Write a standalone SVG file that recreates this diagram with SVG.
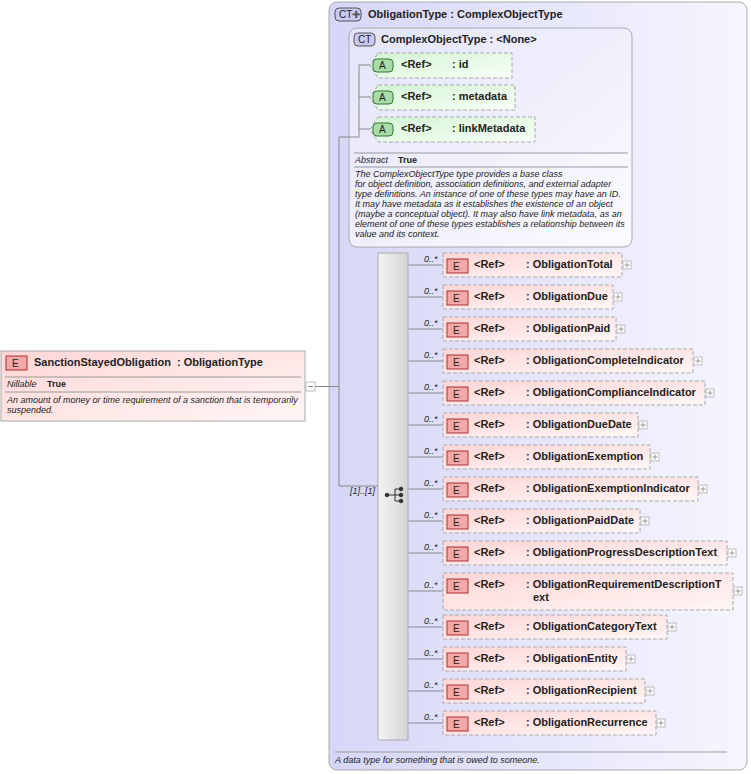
<svg xmlns="http://www.w3.org/2000/svg" width="751" height="774" viewBox="0 0 751 774">
<defs>
<linearGradient id="gOuter" x1="0" y1="0" x2="1" y2="0"><stop offset="0" stop-color="#d6d6f8"/><stop offset="1" stop-color="#f6f6ff"/></linearGradient>
<linearGradient id="gInner" x1="0" y1="0" x2="1" y2="1"><stop offset="0" stop-color="#e4e4fa"/><stop offset="1" stop-color="#fbfbff"/></linearGradient>
<linearGradient id="gE" x1="0" y1="0" x2="1" y2="1"><stop offset="0" stop-color="#ffd6d6"/><stop offset="1" stop-color="#fff6f6"/></linearGradient>
<linearGradient id="gA" x1="0" y1="0" x2="1" y2="1"><stop offset="0" stop-color="#d4f4d4"/><stop offset="1" stop-color="#f8fff8"/></linearGradient>
<linearGradient id="gSeq" x1="0" y1="0" x2="1" y2="0"><stop offset="0" stop-color="#f4f4f4"/><stop offset="1" stop-color="#d4d4d4"/></linearGradient>
</defs>
<style>
text{font-family:"Liberation Sans",Arial,sans-serif;fill:#222}
.t{font-size:11px;font-weight:bold}
.s{font-size:9px;font-style:italic}
.b{font-size:9px;font-weight:bold}
.ebox{fill:url(#gE);stroke:#aaa;stroke-dasharray:4,2}
.abox{fill:url(#gA);stroke:#aaa;stroke-dasharray:4,2}
.ei{fill:#f4a8a8;stroke:#a33}
.ln{stroke:#888;fill:none}
.pl{fill:#fff;stroke:#bbb}
.sep{stroke:#999}
</style>
<g id="ObligationType">
<rect x="329" y="2" width="418" height="768" rx="8" fill="url(#gOuter)" stroke="#aaa"/>
<rect x="335" y="8" width="26" height="13" rx="4" fill="#c8c8f0" stroke="#555"/>
<text x="339" y="18" style="font-size:10px">CT</text><text x="352" y="18" style="font-size:10px;fill:#555">✚</text>
<text x="368" y="18" class="t">ObligationType : ComplexObjectType</text>
<line x1="335" y1="752" x2="727" y2="752" class="sep"/>
<text x="335" y="763" class="s">A data type for something that is owed to someone.</text>
</g>
<g id="ComplexObjectType">
<rect x="349" y="28" width="283" height="219" rx="8" fill="url(#gInner)" stroke="#aaa"/>
<rect x="354" y="33" width="21" height="13" rx="4" fill="#c8c8f0" stroke="#555"/>
<text x="358" y="43" style="font-size:10px">CT</text>
<text x="381" y="43" class="t">ComplexObjectType : &lt;None&gt;</text>
<line x1="354" y1="153" x2="628" y2="153" class="sep"/>
<text x="355" y="163" class="s">Abstract</text><text x="398" y="163" class="b">True</text>
<line x1="354" y1="167" x2="628" y2="167" class="sep"/>
<text class="s" style="font-size:9px"><tspan x="355" y="177">The ComplexObjectType type provides a base class</tspan><tspan x="355" y="187">for object definition, association definitions, and external adapter</tspan><tspan x="355" y="197">type definitions. An instance of one of these types may have an ID.</tspan><tspan x="355" y="207">It may have metadata as it establishes the existence of an object</tspan><tspan x="355" y="217">(maybe a conceptual object). It may also have link metadata, as an</tspan><tspan x="355" y="227">element of one of these types establishes a relationship between its</tspan><tspan x="355" y="237">value and its context.</tspan></text>
</g>
<g id="attr-id"><path d="M378,53 H512 V78 H378 L370,65.5 Z" class="abox"/><rect x="373" y="59" width="20" height="13" rx="4" fill="#a8dca8" stroke="#373"/><text x="379" y="69" style="font-size:10px">A</text><text x="401" y="68" class="t">&lt;Ref&gt;</text><text x="452" y="68" class="t">: id</text></g>
<g id="attr-metadata"><path d="M378,85 H515 V110 H378 L370,97.5 Z" class="abox"/><rect x="373" y="91" width="20" height="13" rx="4" fill="#a8dca8" stroke="#373"/><text x="379" y="101" style="font-size:10px">A</text><text x="401" y="100" class="t">&lt;Ref&gt;</text><text x="452" y="100" class="t">: metadata</text></g>
<g id="attr-linkMetadata"><path d="M378,117 H535 V142 H378 L370,129.5 Z" class="abox"/><rect x="373" y="123" width="20" height="13" rx="4" fill="#a8dca8" stroke="#373"/><text x="379" y="133" style="font-size:10px">A</text><text x="401" y="132" class="t">&lt;Ref&gt;</text><text x="452" y="132" class="t">: linkMetadata</text></g>
<g id="SanctionStayedObligation">
<rect x="1" y="351" width="304" height="70" fill="url(#gE)" stroke="#aaa"/>
<rect x="6" y="356" width="21" height="14" class="ei"/><text x="12" y="367" style="font-size:10px">E</text>
<text x="34" y="366" class="t">SanctionStayedObligation<tspan x="177">: ObligationType</tspan></text>
<line x1="5" y1="377" x2="301" y2="377" class="sep"/>
<text x="7" y="387" class="s">Nillable</text><text x="47" y="387" class="b">True</text>
<line x1="5" y1="392" x2="301" y2="392" class="sep"/>
<text class="s"><tspan x="7" y="403">An amount of money or time requirement of a sanction that is temporarily</tspan><tspan x="7" y="413">suspended.</tspan></text>
<rect x="306" y="382" width="9" height="9" class="pl"/><line x1="308" y1="386.5" x2="313" y2="386.5" stroke="#888"/>
</g>
<g id="connectors">
<path class="ln" d="M315,386.5 H339 M339,137 V486 M339,137 H359 M359,65 V137 M359,65 H370 M359,97 H370 M359,129 H370 M339,486 H378"/>
<path class="ln" d="M408,265 H443 M408,297 H443 M408,329 H443 M408,361 H443 M408,393 H443 M408,425 H443 M408,457 H443 M408,489 H443 M408,521 H443 M408,553 H443 M408,591 H443 M408,627 H443 M408,659 H443 M408,691 H443 M408,723 H443"/>
</g>
<g id="sequence">
<rect x="378" y="253" width="30" height="487" fill="url(#gSeq)" stroke="#aaa"/>
<text x="350" y="494" class="s">[1]..[1]</text>
<g stroke="#333" fill="#333"><line x1="387" y1="495" x2="395" y2="495"/><path d="M395,489 V501 M395,489 H400 M395,495 H400 M395,501 H400" fill="none"/><circle cx="387" cy="495" r="1.8"/><circle cx="401" cy="489" r="1.8"/><circle cx="401" cy="495" r="1.8"/><circle cx="401" cy="501" r="1.8"/></g>
</g>
<g id="elements">
<g id="e1"><text x="424" y="262" class="s">0..*</text><rect x="443" y="253" width="179" height="24" class="ebox"/><rect x="447" y="259" width="21" height="14" class="ei"/><text x="453" y="270" style="font-size:10px">E</text><text x="474" y="268" class="t">&lt;Ref&gt;</text><text x="526" y="268" class="t">: ObligationTotal</text><rect x="623" y="261" width="8" height="8" class="pl"/><path d="M624.5,265 H629.5 M627,262.5 V267.5" stroke="#999"/></g>
<g id="e2"><text x="424" y="294" class="s">0..*</text><rect x="443" y="285" width="170" height="24" class="ebox"/><rect x="447" y="291" width="21" height="14" class="ei"/><text x="453" y="302" style="font-size:10px">E</text><text x="474" y="300" class="t">&lt;Ref&gt;</text><text x="526" y="300" class="t">: ObligationDue</text><rect x="614" y="293" width="8" height="8" class="pl"/><path d="M615.5,297 H620.5 M618,294.5 V299.5" stroke="#999"/></g>
<g id="e3"><text x="424" y="326" class="s">0..*</text><rect x="443" y="317" width="173" height="24" class="ebox"/><rect x="447" y="323" width="21" height="14" class="ei"/><text x="453" y="334" style="font-size:10px">E</text><text x="474" y="332" class="t">&lt;Ref&gt;</text><text x="526" y="332" class="t">: ObligationPaid</text><rect x="617" y="325" width="8" height="8" class="pl"/><path d="M618.5,329 H623.5 M621,326.5 V331.5" stroke="#999"/></g>
<g id="e4"><text x="424" y="358" class="s">0..*</text><rect x="443" y="349" width="250" height="24" class="ebox"/><rect x="447" y="355" width="21" height="14" class="ei"/><text x="453" y="366" style="font-size:10px">E</text><text x="474" y="364" class="t">&lt;Ref&gt;</text><text x="526" y="364" class="t">: ObligationCompleteIndicator</text><rect x="694" y="357" width="8" height="8" class="pl"/><path d="M695.5,361 H700.5 M698,358.5 V363.5" stroke="#999"/></g>
<g id="e5"><text x="424" y="390" class="s">0..*</text><rect x="443" y="381" width="262" height="24" class="ebox"/><rect x="447" y="387" width="21" height="14" class="ei"/><text x="453" y="398" style="font-size:10px">E</text><text x="474" y="396" class="t">&lt;Ref&gt;</text><text x="526" y="396" class="t">: ObligationComplianceIndicator</text><rect x="706" y="389" width="8" height="8" class="pl"/><path d="M707.5,393 H712.5 M710,390.5 V395.5" stroke="#999"/></g>
<g id="e6"><text x="424" y="422" class="s">0..*</text><rect x="443" y="413" width="195" height="24" class="ebox"/><rect x="447" y="419" width="21" height="14" class="ei"/><text x="453" y="430" style="font-size:10px">E</text><text x="474" y="428" class="t">&lt;Ref&gt;</text><text x="526" y="428" class="t">: ObligationDueDate</text><rect x="639" y="421" width="8" height="8" class="pl"/><path d="M640.5,425 H645.5 M643,422.5 V427.5" stroke="#999"/></g>
<g id="e7"><text x="424" y="454" class="s">0..*</text><rect x="443" y="445" width="207" height="24" class="ebox"/><rect x="447" y="451" width="21" height="14" class="ei"/><text x="453" y="462" style="font-size:10px">E</text><text x="474" y="460" class="t">&lt;Ref&gt;</text><text x="526" y="460" class="t">: ObligationExemption</text><rect x="651" y="453" width="8" height="8" class="pl"/><path d="M652.5,457 H657.5 M655,454.5 V459.5" stroke="#999"/></g>
<g id="e8"><text x="424" y="486" class="s">0..*</text><rect x="443" y="477" width="255" height="24" class="ebox"/><rect x="447" y="483" width="21" height="14" class="ei"/><text x="453" y="494" style="font-size:10px">E</text><text x="474" y="492" class="t">&lt;Ref&gt;</text><text x="526" y="492" class="t">: ObligationExemptionIndicator</text><rect x="699" y="485" width="8" height="8" class="pl"/><path d="M700.5,489 H705.5 M703,486.5 V491.5" stroke="#999"/></g>
<g id="e9"><text x="424" y="518" class="s">0..*</text><rect x="443" y="509" width="197" height="24" class="ebox"/><rect x="447" y="515" width="21" height="14" class="ei"/><text x="453" y="526" style="font-size:10px">E</text><text x="474" y="524" class="t">&lt;Ref&gt;</text><text x="526" y="524" class="t">: ObligationPaidDate</text><rect x="641" y="517" width="8" height="8" class="pl"/><path d="M642.5,521 H647.5 M645,518.5 V523.5" stroke="#999"/></g>
<g id="e10"><text x="424" y="550" class="s">0..*</text><rect x="443" y="541" width="284" height="24" class="ebox"/><rect x="447" y="547" width="21" height="14" class="ei"/><text x="453" y="558" style="font-size:10px">E</text><text x="474" y="556" class="t">&lt;Ref&gt;</text><text x="526" y="556" class="t">: ObligationProgressDescriptionText</text><rect x="728" y="549" width="8" height="8" class="pl"/><path d="M729.5,553 H734.5 M732,550.5 V555.5" stroke="#999"/></g>
<g id="e11"><text x="424" y="588" class="s">0..*</text><rect x="443" y="573" width="290" height="37" class="ebox"/><rect x="447" y="579" width="21" height="14" class="ei"/><text x="453" y="590" style="font-size:10px">E</text><text x="474" y="588" class="t">&lt;Ref&gt;</text><text x="526" y="588" class="t">: ObligationRequirementDescriptionT</text><text x="533" y="601" class="t">ext</text><rect x="734" y="587" width="8" height="8" class="pl"/><path d="M735.5,591 H740.5 M738,588.5 V593.5" stroke="#999"/></g>
<g id="e12"><text x="424" y="624" class="s">0..*</text><rect x="443" y="615" width="224" height="24" class="ebox"/><rect x="447" y="621" width="21" height="14" class="ei"/><text x="453" y="632" style="font-size:10px">E</text><text x="474" y="630" class="t">&lt;Ref&gt;</text><text x="526" y="630" class="t">: ObligationCategoryText</text><rect x="668" y="623" width="8" height="8" class="pl"/><path d="M669.5,627 H674.5 M672,624.5 V629.5" stroke="#999"/></g>
<g id="e13"><text x="424" y="656" class="s">0..*</text><rect x="443" y="647" width="183" height="24" class="ebox"/><rect x="447" y="653" width="21" height="14" class="ei"/><text x="453" y="664" style="font-size:10px">E</text><text x="474" y="662" class="t">&lt;Ref&gt;</text><text x="526" y="662" class="t">: ObligationEntity</text><rect x="627" y="655" width="8" height="8" class="pl"/><path d="M628.5,659 H633.5 M631,656.5 V661.5" stroke="#999"/></g>
<g id="e14"><text x="424" y="688" class="s">0..*</text><rect x="443" y="679" width="202" height="24" class="ebox"/><rect x="447" y="685" width="21" height="14" class="ei"/><text x="453" y="696" style="font-size:10px">E</text><text x="474" y="694" class="t">&lt;Ref&gt;</text><text x="526" y="694" class="t">: ObligationRecipient</text><rect x="646" y="687" width="8" height="8" class="pl"/><path d="M647.5,691 H652.5 M650,688.5 V693.5" stroke="#999"/></g>
<g id="e15"><text x="424" y="720" class="s">0..*</text><rect x="443" y="711" width="213" height="24" class="ebox"/><rect x="447" y="717" width="21" height="14" class="ei"/><text x="453" y="728" style="font-size:10px">E</text><text x="474" y="726" class="t">&lt;Ref&gt;</text><text x="526" y="726" class="t">: ObligationRecurrence</text><rect x="657" y="719" width="8" height="8" class="pl"/><path d="M658.5,723 H663.5 M661,720.5 V725.5" stroke="#999"/></g>
</g>
</svg>
